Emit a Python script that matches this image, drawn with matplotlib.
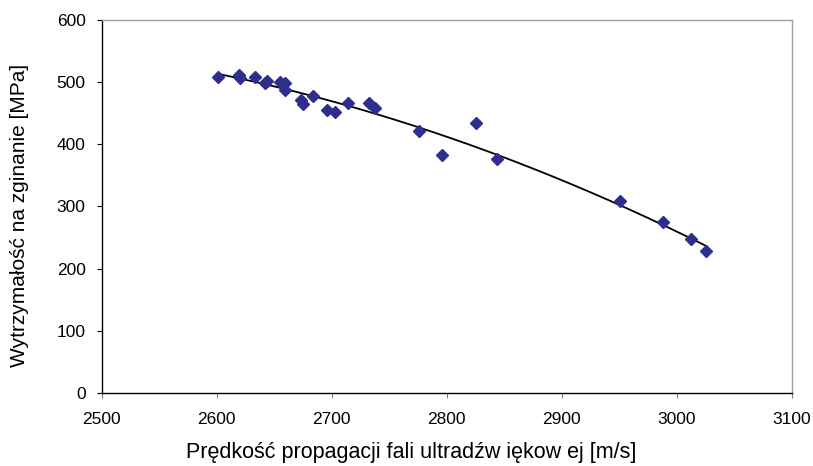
import numpy as np
import matplotlib
matplotlib.use("Agg")
import matplotlib.pyplot as plt

plt.rcParams['font.family'] = ['Liberation Sans', 'DejaVu Sans']

# pomiary: predkosc fali [m/s] i wytrzymalosc na zginanie [MPa]
predkosc = [2601, 2619, 2620, 2633, 2642, 2644, 2655, 2659, 2659,
            2673, 2675, 2684, 2696, 2703, 2714, 2732, 2738,
            2776, 2796, 2825, 2844, 2951, 2988, 3012, 3025]
wytrzymalosc = [509, 511, 507, 509, 498, 502, 501, 499, 488,
                471, 465, 478, 456, 452, 466, 466, 459,
                422, 382, 435, 376, 309, 275, 247, 228]

x_ticks = [2500, 2600, 2700, 2800, 2900, 3000, 3100]
y_ticks = [0, 100, 200, 300, 400, 500, 600]

fig = plt.figure(figsize=(8.13, 4.66), dpi=100)
ax = fig.add_axes([0.125, 0.157, 0.849, 0.800])

ax.plot(predkosc, wytrzymalosc, linestyle='none', marker='D',
        markersize=6.3, color='#2E2E8F', zorder=3)

# linia trendu - wielomian 2 stopnia
wsp = np.polyfit(predkosc, wytrzymalosc, 2)
xs = np.linspace(min(predkosc), max(predkosc), 200)
ax.plot(xs, np.polyval(wsp, xs), color='black', linewidth=1.3, zorder=2)

ax.set_xlim(2500, 3100)
ax.set_ylim(0, 600)
ax.set_xticks(x_ticks)
ax.set_yticks(y_ticks)

for side in ('top', 'right'):
    ax.spines[side].set_color('#a0a0a0')
for side in ('left', 'bottom'):
    ax.spines[side].set_color('black')
for s in ax.spines.values():
    s.set_linewidth(1.0)

ax.tick_params(axis='x', direction='out', length=3.6, color='#808080',
               labelsize=12.5, pad=10)
ax.tick_params(axis='y', direction='out', length=3.6, color='black',
               labelsize=12.5, pad=8)

ax.set_xlabel('Prędkość propagacji fali ultradźw iękow ej [m/s]',
              fontsize=15.5)
ax.set_ylabel('Wytrzymałość na zginanie [MPa]', fontsize=15)
ax.xaxis.set_label_coords(0.448, -0.132)
ax.yaxis.set_label_coords(-0.105, 0.475)

fig.savefig('out.png', dpi=100)
